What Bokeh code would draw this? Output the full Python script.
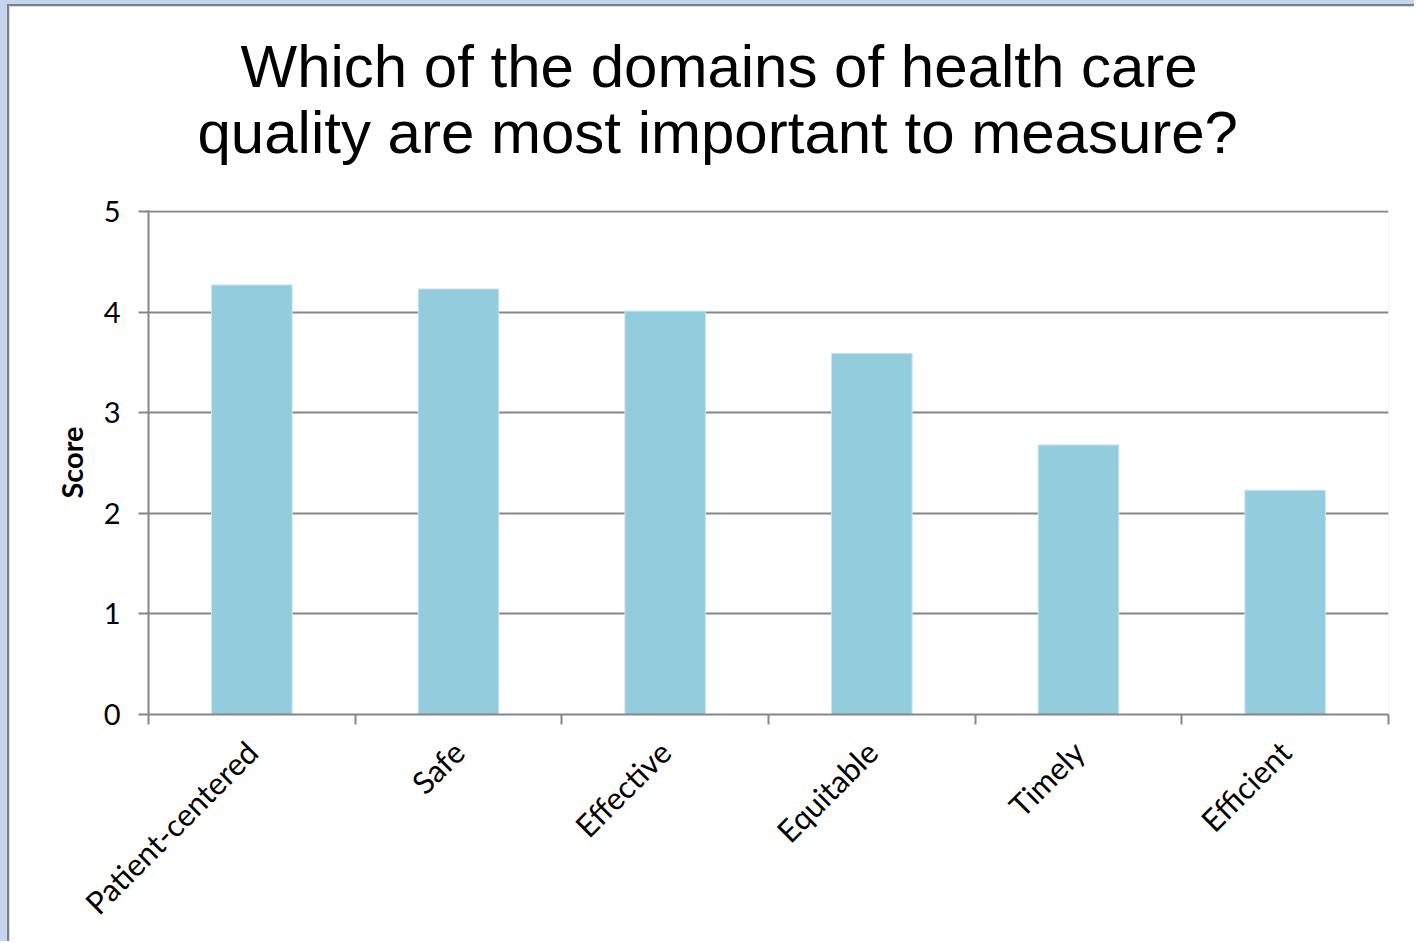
from math import pi
from bokeh.plotting import figure
from bokeh.models import Range1d, FixedTicker, Title
from bokeh.layouts import column
from bokeh.embed import file_html
from bokeh.resources import INLINE

# ---- data ----
categories = ["Patient-centered", "Safe", "Effective", "Equitable", "Timely", "Efficient"]
scores = [4.27, 4.23, 4.01, 3.59, 2.68, 2.23]
y_ticks = [0, 1, 2, 3, 4, 5]
title_lines = ["Which of the domains of health care", "quality are most important to measure?"]
y_label = "Score"

GREY = "#868686"
BAR = "#93CDDD"
TICK_FONT = "Lato"

n = len(categories)
x_pos = [i + 0.5 for i in range(n)]

p = figure(width=1407, height=937, output_backend="svg", toolbar_location=None,
           x_range=Range1d(0, n), y_range=Range1d(0, 5.01),
           min_border_left=139, min_border_right=28, min_border_top=204, min_border_bottom=229)
p.outline_line_color = None
p.background_fill_color = "white"
p.border_fill_color = "white"

p.vbar(x=x_pos, top=scores, width=0.39, fill_color=BAR, line_color="#C8E6EE", line_width=1)

# x axis: labels at category centres, ticks at boundaries
xt = FixedTicker(ticks=x_pos, minor_ticks=list(range(n + 1)))
p.xaxis.ticker = xt
p.xaxis.major_label_overrides = {x: c for x, c in zip(x_pos, categories)}
p.xaxis.major_tick_out = 0
p.xaxis.major_tick_in = 0
p.xaxis.minor_tick_out = 10
p.xaxis.minor_tick_in = 0
p.xaxis.minor_tick_line_color = GREY
p.xaxis.minor_tick_line_width = 2
p.xaxis.major_label_orientation = pi / 4
p.xaxis.major_label_standoff = 22
p.xaxis.axis_line_color = GREY
p.xaxis.axis_line_width = 2
p.xaxis.major_label_text_font = TICK_FONT
p.xaxis.major_label_text_font_size = "31px"
p.xaxis.major_label_text_color = "black"

# y axis
p.yaxis.ticker = FixedTicker(ticks=y_ticks)
p.yaxis.minor_tick_line_color = None
p.yaxis.major_tick_out = 10
p.yaxis.major_tick_in = 0
p.yaxis.major_tick_line_color = GREY
p.yaxis.major_tick_line_width = 2
p.yaxis.axis_line_color = GREY
p.yaxis.axis_line_width = 2
p.yaxis.major_label_text_font = TICK_FONT
p.yaxis.major_label_text_font_size = "29px"
p.yaxis.major_label_text_color = "black"
p.yaxis.major_label_standoff = 18
p.yaxis.axis_label = y_label
p.yaxis.axis_label_text_font = TICK_FONT
p.yaxis.axis_label_text_font_size = "29px"
p.yaxis.axis_label_text_font_style = "bold"
p.yaxis.axis_label_text_color = "black"
p.yaxis.axis_label_standoff = 12

p.xgrid.grid_line_color = None
p.ygrid.ticker = FixedTicker(ticks=y_ticks)
p.ygrid.grid_line_color = GREY
p.ygrid.grid_line_width = 2

# title: two lines, each placed so that they are centred over the chart area
t2 = Title(text=title_lines[1], align="left", offset=49, standoff=89,
           text_font="Liberation Sans", text_font_size="60px", text_font_style="normal",
           text_color="black", text_line_height=1.0)
t1 = Title(text=title_lines[0], align="left", offset=92, standoff=-95,
           text_font="Liberation Sans", text_font_size="60px", text_font_style="normal",
           text_color="black", text_line_height=1.0)
p.add_layout(t2, "above")
p.add_layout(t1, "above")

p.styles = {"border-left": "2px solid #808080", "border-top": "2px solid #808080"}
layout = column(p, styles={"background-color": "#C6D4EE", "padding-left": "7px",
                           "padding-top": "4px"})

open("out.html", "w").write(file_html(layout, INLINE))
